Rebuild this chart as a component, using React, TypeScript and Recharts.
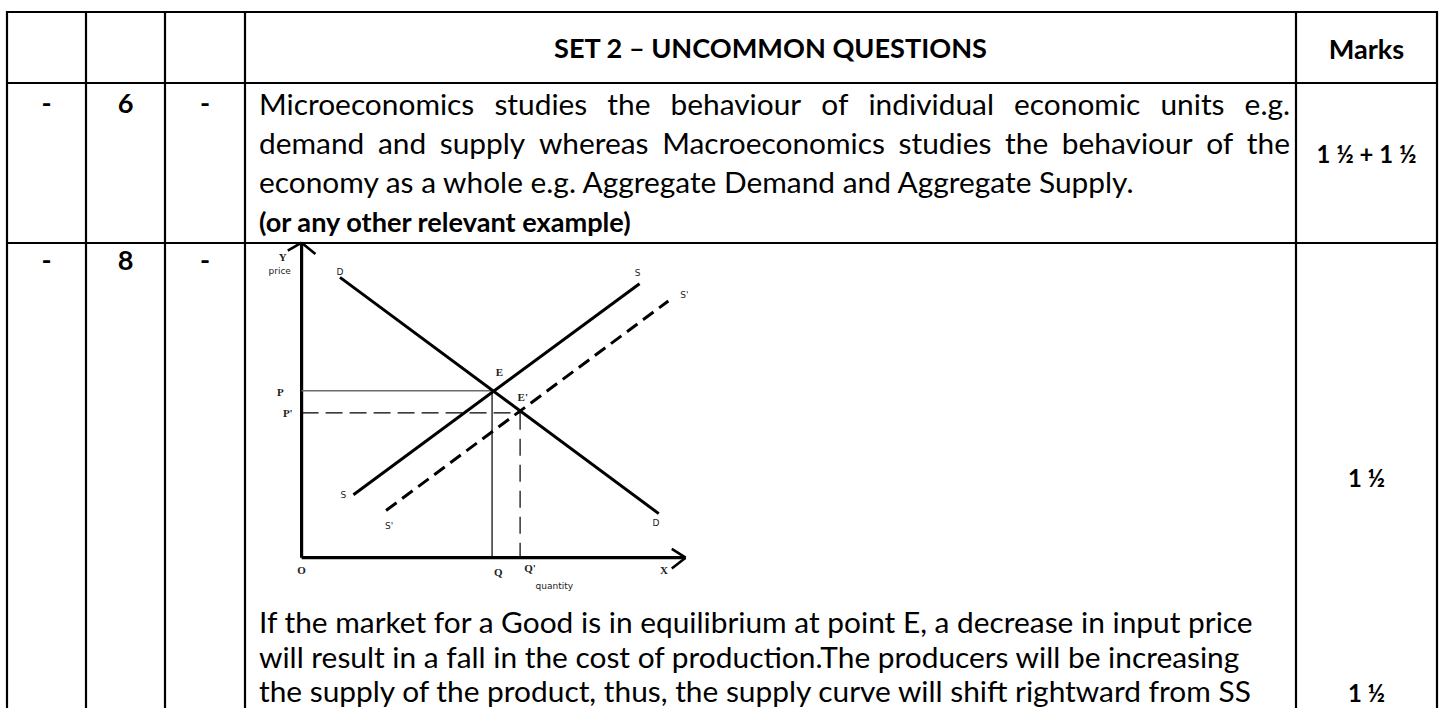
import React from 'react';
import { LineChart, Line, XAxis, YAxis, ReferenceLine, ReferenceDot } from 'recharts';

// --- diagram values (quantity, price) ---
const demandQty = [10, 93];
const demandPrice = [89, 14];
const supplyQty = [13.5, 88];
const supplyPrice = [20, 87];
const newSupplyQty = [22, 95.5];
const newSupplyPrice = [15, 81.5];

// E before the shift, E' after
const eqQty = [49.6, 56.9];
const eqPrice = [53, 46];

const AXIS_MAX = 100;

// curve / point labels, placed in data space
const labelText = ['Y', 'price', 'D', 'S', "S'", 'E', 'P', "E'", "P'", 'S', "S'", 'D', 'O', 'Q', "Q'", 'X', 'quantity'];
const labelQty = [-4.9, -5.7, 10, 87.5, 99.7, 51.5, -5.5, 57.6, -3.6, 10.9, 22.8, 92.3, 0, 51.2, 59.5, 94.4, 65.8];
const labelPrice = [95.6, 91.1, 90.6, 90.4, 83.4, 59, 52.7, 51.1, 45.8, 19.9, 10.2, 11, -3.9, -4.4, -3.4, -3.9, -9.1];
const serifLabels = ['Y', 'E', 'P', "E'", "P'", 'O', 'Q', "Q'", 'X'];

// --- table text ---
const headerTitle = 'SET 2 \u2013 UNCOMMON QUESTIONS';
const row2Lines = [
  'Microeconomics studies the behaviour of individual economic units e.g.',
  'demand and supply whereas Macroeconomics studies the behaviour of the',
  'economy as a whole e.g. Aggregate Demand and Aggregate Supply.',
];
const row2Note = '(or any other relevant example)';
const row3Lines = [
  'If the market for a Good is in equilibrium at point E, a decrease in input price',
  'will result in a fall in the cost of production.The producers will be increasing',
  'the supply of the product, thus, the supply curve will shift rightward from SS',
];
const marksQ6 = '1 ½ + 1 ½';
const marksPart = '1 ½';

const FONT = 'Lato';
const COLS = [7, 86, 165, 245, 1296, 1437];
const ROWS = [12, 83, 243];
const TEXT_LEFT = 259;
const TEXT_RIGHT = 1290;

let ctx: CanvasRenderingContext2D | null = null;
const measure = (text: string, size: number, bold = false) => {
  if (!ctx) ctx = document.createElement('canvas').getContext('2d');
  ctx!.font = `${bold ? 700 : 400} ${size}px ${FONT}`;
  return ctx!.measureText(text).width;
};

const toPoints = (xs: number[], ys: number[]) => xs.map((x, i) => ({ x, y: ys[i] }));

const MarketDiagram = () => {
  const demand = toPoints(demandQty, demandPrice);
  const supply = toPoints(supplyQty, supplyPrice);
  const newSupply = toPoints(newSupplyQty, newSupplyPrice);
  const [qE, qE2] = eqQty;
  const [pE, pE2] = eqPrice;

  return (
    <LineChart width={480} height={357.5} margin={{ top: 0, right: 0, bottom: 0, left: 0 }}>
      <XAxis type="number" dataKey="x" domain={[-15, 110]} hide allowDataOverflow />
      <YAxis type="number" dataKey="y" domain={[-12, 101.5]} hide allowDataOverflow />

      {/* axes with open arrow heads */}
      <ReferenceLine segment={[{ x: 0, y: 0 }, { x: 0, y: AXIS_MAX }]} stroke="#000" strokeWidth={3.2} />
      <ReferenceLine segment={[{ x: 0, y: 0 }, { x: AXIS_MAX, y: 0 }]} stroke="#000" strokeWidth={3.2} />
      <ReferenceLine segment={[{ x: -3.6, y: 97.5 }, { x: 0, y: AXIS_MAX }]} stroke="#000" strokeWidth={2.6} />
      <ReferenceLine segment={[{ x: 3.6, y: 96.4 }, { x: 0, y: AXIS_MAX }]} stroke="#000" strokeWidth={2.6} />
      <ReferenceLine segment={[{ x: 96.4, y: 2.8 }, { x: AXIS_MAX, y: 0 }]} stroke="#000" strokeWidth={2.6} />
      <ReferenceLine segment={[{ x: 96.4, y: -3.4 }, { x: AXIS_MAX, y: 0 }]} stroke="#000" strokeWidth={2.6} />

      {/* guide lines to the equilibria */}
      <ReferenceLine segment={[{ x: 0, y: pE }, { x: qE, y: pE }]} stroke="#6b6b6b" strokeWidth={1.4} />
      <ReferenceLine segment={[{ x: qE, y: pE }, { x: qE, y: 0 }]} stroke="#000" strokeWidth={1.2} />
      <ReferenceLine segment={[{ x: 0, y: pE2 }, { x: qE2, y: pE2 }]} stroke="#000" strokeWidth={1.2} strokeDasharray="17 7" />
      <ReferenceLine segment={[{ x: qE2, y: pE2 }, { x: qE2, y: 0 }]} stroke="#000" strokeWidth={1.2} strokeDasharray="17 9" />

      <Line data={demand} dataKey="y" type="linear" stroke="#000" strokeWidth={3} dot={false} isAnimationActive={false} />
      <Line data={supply} dataKey="y" type="linear" stroke="#000" strokeWidth={3} dot={false} isAnimationActive={false} />
      <Line data={newSupply} dataKey="y" type="linear" stroke="#000" strokeWidth={3} strokeDasharray="13 7" dot={false} isAnimationActive={false} />

      {labelText.map((t, i) => (
        <ReferenceDot
          key={`lbl-${i}`}
          x={labelQty[i]}
          y={labelPrice[i]}
          r={0}
          shape={(p: any) => (
            <text
              x={p.cx} y={p.cy} textAnchor="middle" dominantBaseline="central"
              fontFamily={serifLabels.includes(t) ? '"Liberation Serif", serif' : '"DejaVu Sans", sans-serif'}
              fontSize={serifLabels.includes(t) ? 11 : 9}
              fontWeight={serifLabels.includes(t) ? 700 : 400}
              fill="#222"
            >{t}</text>
          )}
        />
      ))}
    </LineChart>
  );
};

// one line of text; baseline at y
const TLine = ({ x, y, text, size, bold = false, anchor = 'start' }:
  { x: number; y: number; text: string; size: number; bold?: boolean; anchor?: 'start' | 'middle' }) => (
  <text x={x} y={y} fontFamily={FONT} fontSize={size} fontWeight={bold ? 700 : 400} textAnchor={anchor} fill="#000">{text}</text>
);

// justified line: words spread between left and right
const JLine = ({ y, text, size }: { y: number; text: string; size: number }) => {
  const words = text.split(' ');
  const widths = words.map(w => measure(w, size));
  const gap = (TEXT_RIGHT - TEXT_LEFT - widths.reduce((a, b) => a + b, 0)) / (words.length - 1);
  let cx = TEXT_LEFT;
  return (
    <g>
      {words.map((w, i) => {
        const x = cx;
        cx += widths[i] + gap;
        return <TLine key={i} x={x} y={y} text={w} size={size} />;
      })}
    </g>
  );
};

export default function App() {
  // sizes fitted to the widths measured on the picture
  const bodySize = (100 * 995) / measure(row3Lines[0], 100);
  const boldSize = (100 * 434) / measure(headerTitle, 100, true);
  const marksSize = (100 * 100) / measure(marksQ6, 100, true);

  return (
    <div style={{ position: 'relative', width: 1448, height: 708, background: '#fff', overflow: 'hidden' }}>
      <style>{'body{margin:0;overflow:hidden;}'}</style>
      <svg width={1448} height={708} style={{ position: 'absolute', left: 0, top: 0 }}>
        {/* table grid */}
        {COLS.map((x, i) => (
          <line key={`c${i}`} x1={x} x2={x} y1={ROWS[0] - 1} y2={720} stroke="#000" strokeWidth={2.2} />
        ))}
        {ROWS.map((y, i) => (
          <line key={`r${i}`} x1={COLS[0] - 1} x2={COLS[5] + 1} y1={y} y2={y} stroke="#000" strokeWidth={2.2} />
        ))}

        {/* header */}
        <TLine x={770.5} y={58} text={headerTitle} size={boldSize} bold anchor="middle" />
        <TLine x={1366.5} y={59} text="Marks" size={boldSize} bold anchor="middle" />

        {/* question 6 */}
        <TLine x={46.5} y={113} text="-" size={boldSize} bold anchor="middle" />
        <TLine x={125.5} y={113} text="6" size={boldSize} bold anchor="middle" />
        <TLine x={205} y={113} text="-" size={boldSize} bold anchor="middle" />
        <JLine y={115} text={row2Lines[0]} size={bodySize} />
        <JLine y={154} text={row2Lines[1]} size={bodySize} />
        <TLine x={TEXT_LEFT} y={193} text={row2Lines[2]} size={bodySize} />
        <TLine x={TEXT_LEFT} y={232} text={row2Note} size={boldSize} bold />
        <TLine x={1366.5} y={162.5} text={marksQ6} size={marksSize} bold anchor="middle" />

        {/* question 8 */}
        <TLine x={46.5} y={270} text="-" size={boldSize} bold anchor="middle" />
        <TLine x={125.5} y={270} text="8" size={boldSize} bold anchor="middle" />
        <TLine x={205} y={270} text="-" size={boldSize} bold anchor="middle" />
        <TLine x={TEXT_LEFT} y={633} text={row3Lines[0]} size={bodySize} />
        <TLine x={TEXT_LEFT} y={668} text={row3Lines[1]} size={bodySize} />
        <TLine x={TEXT_LEFT} y={702} text={row3Lines[2]} size={bodySize} />
        <TLine x={1366.5} y={487} text={marksPart} size={marksSize} bold anchor="middle" />
        <TLine x={1366.5} y={702} text={marksPart} size={marksSize} bold anchor="middle" />
      </svg>
      <div style={{ position: 'absolute', left: 244.4, top: 238.25 }}>
        <MarketDiagram />
      </div>
    </div>
  );
}
